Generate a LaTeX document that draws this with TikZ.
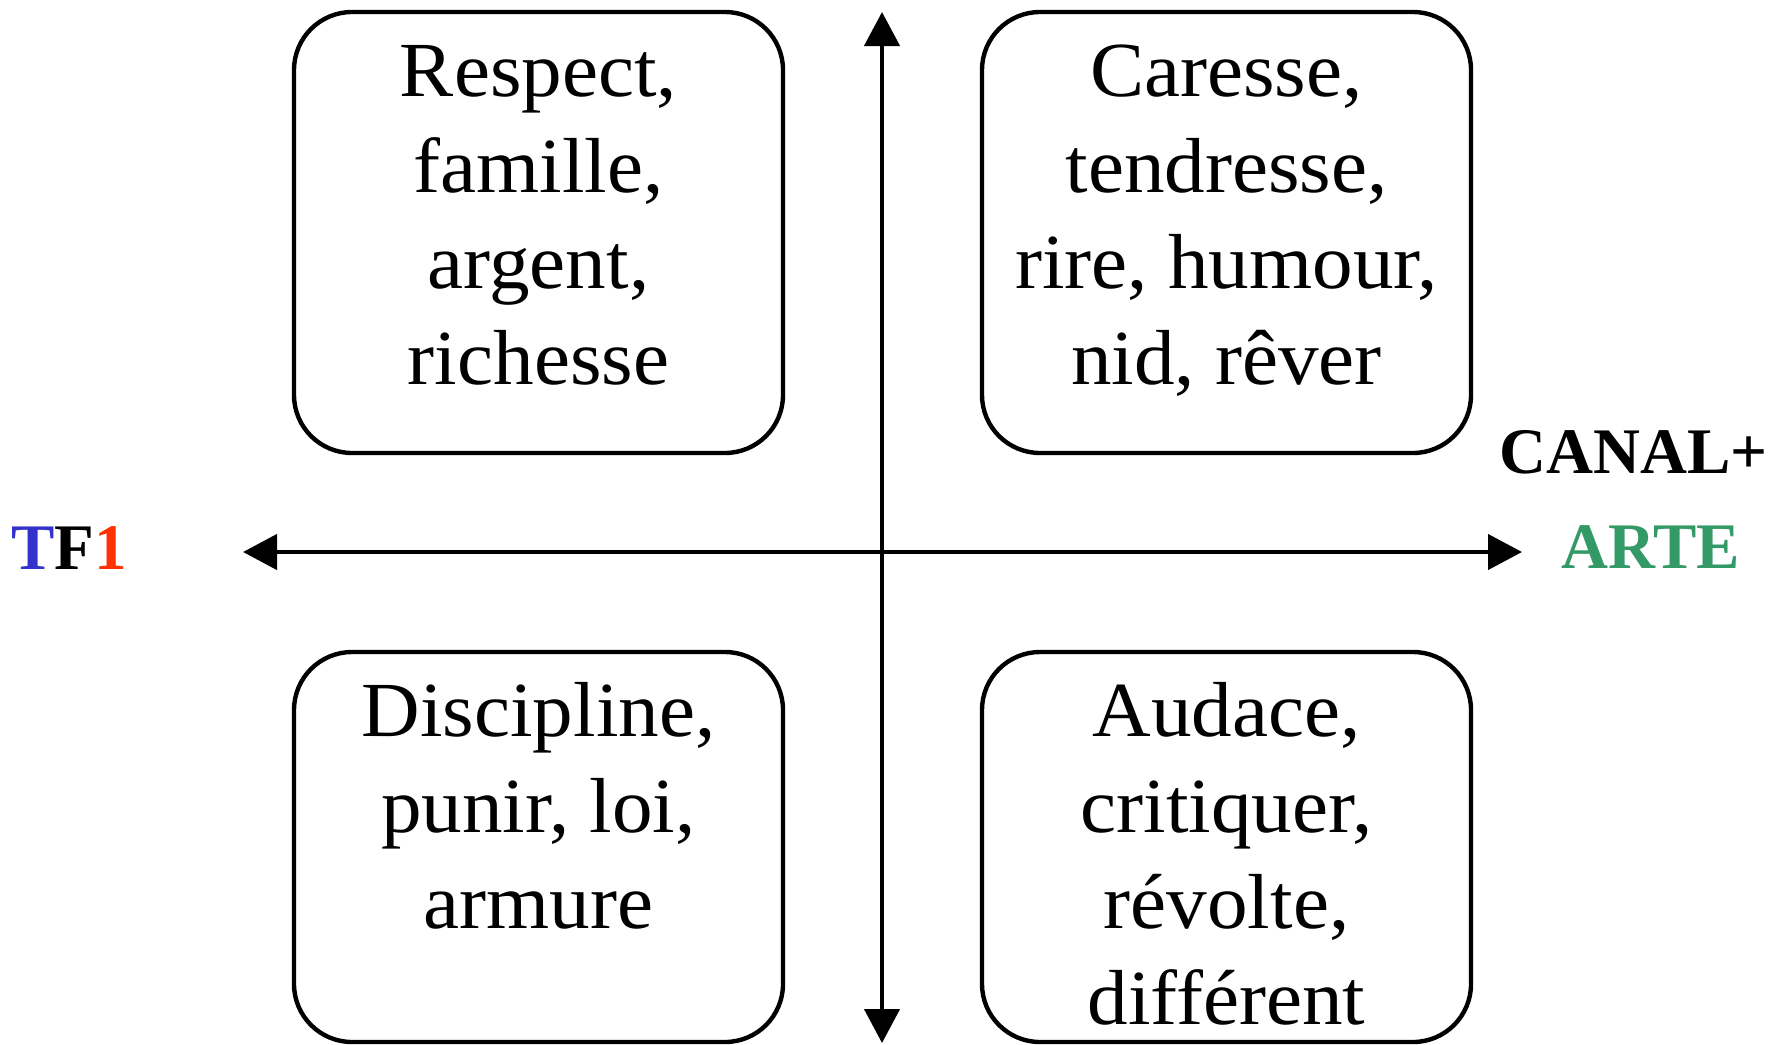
\documentclass[tikz,border=0pt]{standalone}
\usepackage{fontspec}
\setmainfont{Liberation Serif}
\newfontfamily\boxfont[FakeStretch=1.04]{Liberation Serif}
\usetikzlibrary{arrows.meta}
\definecolor{tfblue}{HTML}{3333CC}
\definecolor{tfred}{HTML}{FF3300}
\definecolor{artegreen}{HTML}{339966}
\tikzset{
  quadbox/.style={draw, line width=2.2pt, rounded corners=29pt, rectangle, inner sep=0pt, minimum width=244.5pt},
  quadtext/.style={anchor=base, inner sep=0pt, font=\boxfont\fontsize{39}{48}\selectfont},
  axis/.style={line width=2.2pt, -{Triangle[length=17pt, width=17.5pt]}},
  chan/.style={anchor=base, inner sep=0pt, font=\bfseries\fontsize{32.5}{36}\selectfont}
}
\newcommand{\qlines}[1]{\setlength{\tabcolsep}{0pt}\begin{tabular}[t]{c}#1\end{tabular}}
\begin{document}
\begin{tikzpicture}[x=0.5pt, y=-0.5pt]
\useasboundingbox (0,0) rectangle (1780,1044);
% boxes
\node[quadbox, minimum height=220.5pt] (tl) at (538.5,232.5) {};
\node[quadbox, minimum height=220.5pt] (tr) at (1226.5,232.5) {};
\node[quadbox, minimum height=195pt] (bl) at (538.5,847) {};
\node[quadbox, minimum height=195pt] (br) at (1226.5,847) {};
% box texts
\node[quadtext] (tltext) at (538.5,96) {\qlines{Respect,\\famille,\\argent,\\richesse}};
\node[quadtext] (trtext) at (1226.5,96) {\qlines{Caresse,\\tendresse,\\rire, humour,\\nid, rêver}};
\node[quadtext] (bltext) at (538.5,736) {\qlines{Discipline,\\punir, loi,\\armure}};
\node[quadtext] (brtext) at (1226.5,736) {\qlines{Audace,\\critiquer,\\révolte,\\différent}};
% axes
\coordinate (center) at (882,552);
\coordinate (top) at (882,12);
\coordinate (bottom) at (882,1043);
\coordinate (left) at (243,552);
\coordinate (right) at (1522,552);
\draw[axis] (center) -- (top);
\draw[axis] (center) -- (bottom);
\draw[axis] (center) -- (left);
\draw[axis] (center) -- (right);
% channel labels
\node[chan, anchor=base west] (tf1) at (11,569) {\textcolor{tfblue}{T}F\textcolor{tfred}{1}};
\node[chan, anchor=base west] (canal) at (1499,473) {CANAL+};
\node[chan, text=artegreen] (arte) at (1651,568) {ARTE};
\end{tikzpicture}
\end{document}
